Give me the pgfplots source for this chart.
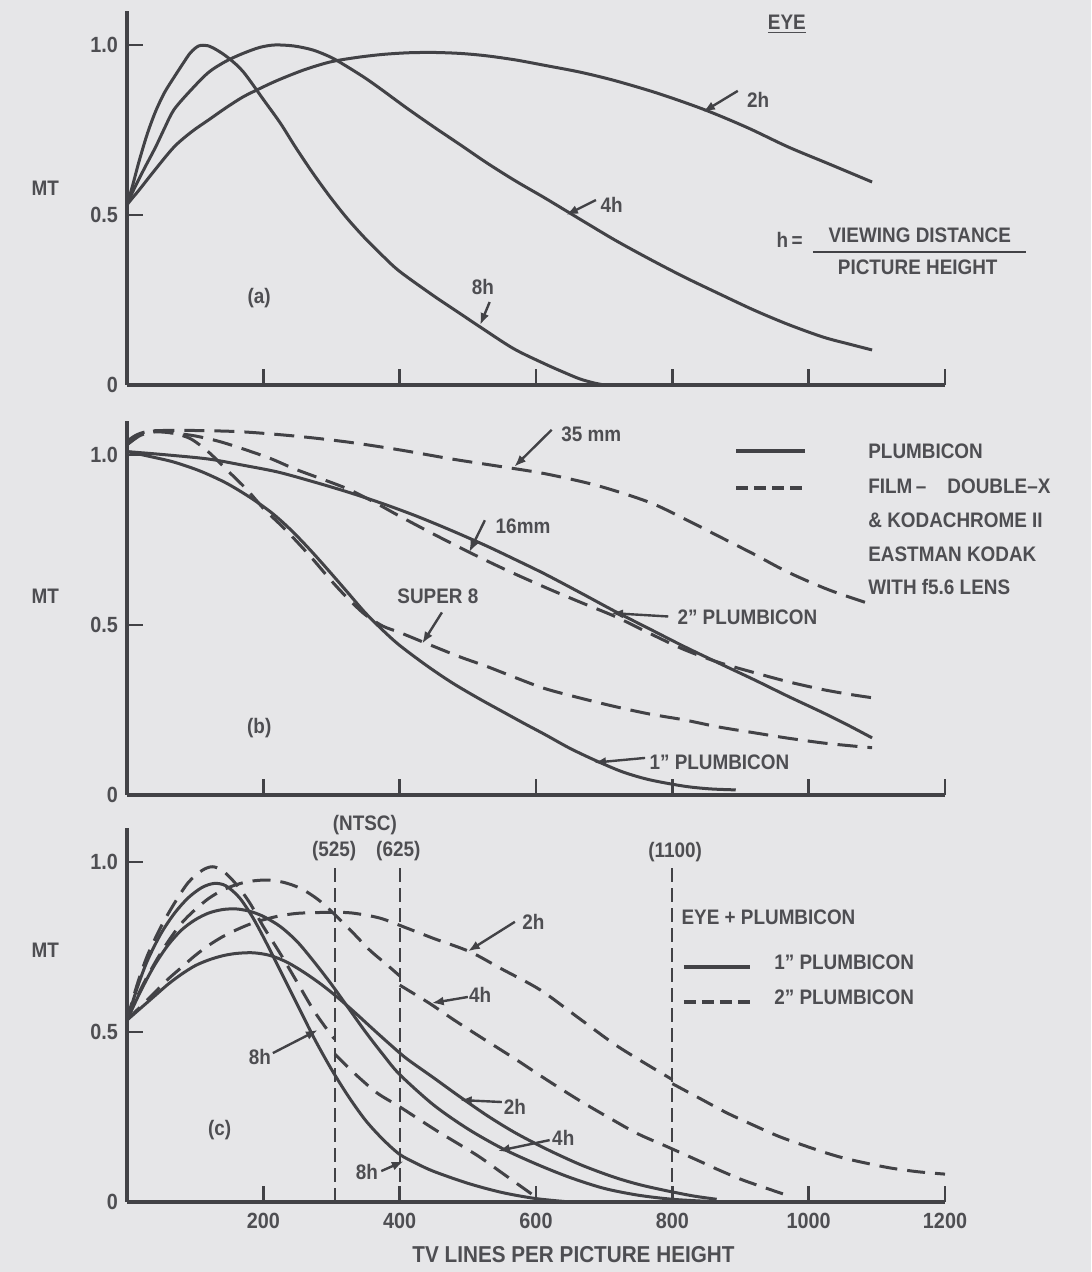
\documentclass[border=0pt]{standalone}
\usepackage{fontspec}
\setmainfont{Liberation Sans}[FakeStretch=0.9]
\usepackage{pgfplots}
\pgfplotsset{compat=1.18}
\usetikzlibrary{arrows.meta}
\definecolor{bgc}{RGB}{230,230,232}
\definecolor{ink}{RGB}{66,66,70}
\definecolor{txt}{RGB}{78,78,82}
\pgfplotsset{
  panel/.style={
    scale only axis, width=409pt, height=187pt,
    xmin=0, xmax=1200, ymin=0, ymax=1.1,
    axis lines=left,
    axis line style={-, line width=1.7pt, ink},
    tick style={ink, line width=1.4pt},
    major tick length=8pt, tick align=inside,
    xtick={200,400,600,800,1000,1200},
    ytick={0,0.5,1.0}, yticklabels={0,0.5,1.0},
    ticklabel style={font=\bfseries\fontsize{11}{12}\selectfont, text=txt},
    yticklabel style={xshift=-1pt},
    /pgf/number format/assume math mode=true,
    clip=false,
    cycle list={{ink,solid,mark=none}},
    every axis plot/.append style={ink, line width=1.5pt, mark=none, smooth},
  },
  nolab/.style={xticklabels={{},{},{},{},{},{}}},
  dB/.style={dash pattern=on 10pt off 5pt},
  dC/.style={dash pattern=on 9pt off 5pt},
}
\tikzset{
  arr/.style={ink, line width=1.2pt, -{Latex[length=6pt,width=4.5pt]}},
  lab/.style={text=txt, font=\bfseries\fontsize{10.5}{12}\selectfont, inner sep=0pt},
}
\begin{document}
\begin{tikzpicture}
\fill[bgc] (0,0) rectangle (545.5pt,636pt);

% ---------------- panel (a) ----------------
\begin{axis}[panel, nolab, at={(63.5pt,443.5pt)}, anchor=south west]
\addplot coordinates {(0,0.53) (8,0.585) (18,0.66) (30,0.74) (42,0.805) (55,0.86) (69,0.905) (82,0.945) (93,0.977) (105,0.997) (118,0.998) (132,0.985) (150,0.96) (171,0.92) (201,0.837) (225,0.77) (247,0.70) (272,0.625) (298,0.553) (323,0.49) (349,0.432) (375,0.38) (400,0.334) (450,0.262) (485,0.215) (517,0.172) (567,0.107) (613,0.062) (640,0.038) (664,0.018) (685,0.006) (700,0)};
\addplot coordinates {(0,0.53) (10,0.575) (25,0.635) (42,0.70) (55,0.755) (69,0.81) (95,0.87) (120,0.92) (145,0.952) (170,0.975) (195,0.993) (217,1.0) (245,0.997) (273,0.985) (300,0.963) (324,0.935) (350,0.902) (374,0.868) (410,0.815) (450,0.759) (490,0.705) (528,0.653) (570,0.60) (613,0.55) (665,0.487) (716,0.426) (767,0.37) (817,0.318) (870,0.267) (920,0.22) (970,0.178) (1021,0.141) (1060,0.12) (1093,0.103)};
\addplot coordinates {(0,0.53) (8,0.55) (18,0.574) (40,0.63) (69,0.70) (95,0.745) (120,0.78) (145,0.815) (170,0.847) (196,0.873) (222,0.897) (260,0.927) (298,0.95) (336,0.963) (374,0.972) (412,0.977) (450,0.978) (490,0.975) (528,0.968) (570,0.956) (613,0.94) (665,0.92) (716,0.895) (780,0.857) (848,0.809) (910,0.757) (970,0.70) (1030,0.65) (1093,0.597)};
\node[lab] at (axis cs:-120,0.58) {MT};
\node[lab] at (axis cs:968,1.06) {\underline{EYE}};
\node[lab] at (axis cs:926,0.838) {2h};
\draw[arr] (axis cs:896,0.865) -- (axis cs:845,0.803);
\node[lab] at (axis cs:711,0.53) {4h};
\draw[arr] (axis cs:688,0.544) -- (axis cs:644,0.50);
\node[lab] at (axis cs:522,0.288) {8h};
\draw[arr] (axis cs:532,0.244) -- (axis cs:518,0.176);
\node[lab] at (axis cs:194,0.256) {(a)};
\node[lab] at (axis cs:972,0.426) {h\,=};
\node[lab] at (axis cs:1163,0.441) {VIEWING DISTANCE};
\draw[ink, line width=1.1pt] (axis cs:1006,0.391) -- (axis cs:1319,0.391);
\node[lab] at (axis cs:1160,0.347) {PICTURE HEIGHT};
\end{axis}

% ---------------- panel (b) ----------------
\begin{axis}[panel, nolab, at={(63.5pt,238.5pt)}, anchor=south west]
\addplot coordinates {(0,1.01) (60,1.0) (120,0.988) (170,0.97) (221,0.95) (272,0.922) (324,0.891) (375,0.857) (425,0.82) (477,0.777) (528,0.732) (570,0.692) (613,0.65) (665,0.595) (716,0.54) (767,0.488) (817,0.437) (868,0.388) (920,0.339) (970,0.29) (1021,0.242) (1060,0.203) (1093,0.168)};
\addplot coordinates {(0,1.01) (35,0.995) (69,0.979) (107,0.953) (145,0.918) (180,0.876) (211,0.832) (235,0.79) (255,0.75) (275,0.707) (298,0.655) (324,0.595) (349,0.537) (375,0.485) (400,0.44) (440,0.38) (477,0.33) (515,0.285) (553,0.243) (583,0.21) (613,0.178) (650,0.137) (689,0.1) (727,0.068) (766,0.045) (817,0.026) (855,0.018) (893,0.015)};
\addplot[dB] coordinates {(0,1.04) (15,1.06) (38,1.071) (100,1.072) (170,1.068) (250,1.055) (324,1.038) (400,1.015) (477,0.988) (545,0.967) (613,0.945) (690,0.91) (766,0.861) (820,0.81) (868,0.761) (920,0.708) (970,0.655) (1030,0.603) (1093,0.56)};
\addplot[dB] coordinates {(0,1.03) (20,1.058) (42,1.068) (70,1.064) (100,1.056) (135,1.04) (170,1.018) (210,0.99) (246,0.959) (285,0.93) (324,0.90) (362,0.862) (400,0.82) (450,0.767) (502,0.714) (555,0.663) (613,0.611) (665,0.567) (716,0.525) (767,0.475) (817,0.428) (868,0.39) (920,0.36) (970,0.333) (1021,0.31) (1060,0.296) (1093,0.286)};
\addplot[dB] coordinates {(0,1.03) (20,1.06) (42,1.071) (70,1.063) (94,1.047) (120,1.008) (145,0.959) (175,0.90) (201,0.841) (225,0.795) (246,0.752) (272,0.695) (298,0.634) (323,0.58) (349,0.531) (375,0.497) (400,0.478) (450,0.437) (490,0.405) (528,0.378) (570,0.345) (613,0.313) (665,0.285) (716,0.26) (767,0.238) (817,0.221) (868,0.2) (920,0.183) (970,0.167) (1021,0.153) (1060,0.145) (1093,0.139)};
\node[lab] at (axis cs:-120,0.584) {MT};
\node[lab] at (axis cs:681,1.062) {35 mm};
\draw[arr] (axis cs:623,1.074) -- (axis cs:568,0.965);
\node[lab] at (axis cs:581,0.79) {16mm};
\draw[arr] (axis cs:525,0.808) -- (axis cs:502,0.714);
\node[lab] at (axis cs:456,0.584) {SUPER 8};
\draw[arr] (axis cs:462,0.537) -- (axis cs:433,0.445);
\node[lab, anchor=west] at (axis cs:807,0.522) {2” PLUMBICON};
\draw[arr] (axis cs:794,0.525) -- (axis cs:710,0.535);
\node[lab, anchor=west] at (axis cs:766,0.097) {1” PLUMBICON};
\draw[arr] (axis cs:760,0.109) -- (axis cs:685,0.095);
\node[lab] at (axis cs:194,0.198) {(b)};
\draw[ink, line width=1.8pt] (axis cs:894,1.012) -- (axis cs:994,1.012);
\draw[ink, line width=1.8pt, dash pattern=on 6pt off 3pt] (axis cs:894,0.903) -- (axis cs:994,0.903);
\node[lab, anchor=west] at (axis cs:1087,1.012) {PLUMBICON};
\node[lab, anchor=west] at (axis cs:1087,0.909) {FILM\,--\quad DOUBLE--X};
\node[lab, anchor=west] at (axis cs:1087,0.808) {\& KODACHROME II};
\node[lab, anchor=west] at (axis cs:1087,0.708) {EASTMAN KODAK};
\node[lab, anchor=west] at (axis cs:1087,0.611) {WITH f5.6 LENS};
\end{axis}

% ---------------- panel (c) ----------------
\begin{axis}[panel, at={(63.5pt,35pt)}, anchor=south west,
  xticklabels={200,400,600,800,1000,1200}, xticklabel style={yshift=-2pt}]
% reference lines
\addplot[line width=0.9pt, sharp plot, dash pattern=on 7pt off 3pt] coordinates {(305,0) (305,0.985)};
\addplot[line width=0.9pt, sharp plot, dash pattern=on 7pt off 3pt] coordinates {(400,0) (400,0.985)};
\addplot[line width=0.9pt, sharp plot, dash pattern=on 7pt off 3pt] coordinates {(800,0) (800,0.985)};
% 1" plumbicon (solid)
\addplot coordinates {(0,0.535) (15,0.63) (30,0.71) (50,0.79) (70,0.85) (90,0.895) (110,0.925) (128,0.937) (145,0.93) (165,0.895) (185,0.835) (205,0.76) (225,0.68) (250,0.58) (275,0.48) (300,0.39) (325,0.31) (350,0.24) (375,0.185) (400,0.14) (425,0.113) (450,0.09) (500,0.055) (550,0.028) (600,0.01) (650,0)};
\addplot coordinates {(0,0.535) (20,0.62) (40,0.695) (60,0.755) (80,0.80) (100,0.83) (120,0.85) (140,0.86) (160,0.862) (180,0.855) (200,0.84) (225,0.81) (250,0.765) (275,0.705) (300,0.64) (325,0.57) (350,0.50) (375,0.435) (400,0.375) (450,0.285) (500,0.215) (550,0.158) (600,0.112) (650,0.072) (700,0.04) (750,0.02) (800,0.008) (850,0.002)};
\addplot coordinates {(0,0.535) (20,0.57) (40,0.605) (60,0.64) (80,0.67) (100,0.695) (120,0.712) (140,0.724) (160,0.731) (185,0.733) (210,0.725) (235,0.705) (260,0.675) (285,0.64) (310,0.60) (335,0.556) (360,0.51) (385,0.465) (410,0.422) (450,0.365) (488,0.31) (530,0.252) (570,0.203) (616,0.155) (665,0.11) (713,0.074) (750,0.052) (787,0.035) (830,0.018) (865,0.008)};
% 2" plumbicon (dashed)
\addplot[dC] coordinates {(0,0.535) (15,0.64) (30,0.725) (50,0.81) (70,0.88) (90,0.94) (110,0.975) (125,0.986) (140,0.975) (160,0.935) (180,0.88) (200,0.81) (225,0.73) (250,0.645) (275,0.56) (300,0.49) (305,0.48)};
\addplot[dC] coordinates {(305,0.435) (330,0.385) (366,0.322) (400,0.28) (454,0.21) (513,0.138) (547,0.09) (575,0.05) (596,0.02)};
\addplot[dC] coordinates {(0,0.535) (20,0.625) (40,0.70) (60,0.765) (80,0.82) (100,0.86) (120,0.893) (140,0.917) (160,0.933) (180,0.943) (205,0.947) (230,0.94) (255,0.922) (280,0.89) (305,0.845) (330,0.795) (356,0.741) (380,0.70) (400,0.665)};
\addplot[dC] coordinates {(400,0.638) (444,0.584) (480,0.535) (518,0.486) (570,0.42) (616,0.359) (665,0.297) (713,0.241) (750,0.20) (792,0.163) (840,0.12) (865,0.097) (899,0.068) (924,0.05) (968,0.02)};
\addplot[dC] coordinates {(0,0.535) (20,0.575) (40,0.615) (60,0.655) (80,0.69) (100,0.725) (120,0.755) (140,0.78) (160,0.80) (180,0.817) (200,0.83) (225,0.842) (250,0.849) (275,0.851) (300,0.852) (330,0.85) (371,0.835) (410,0.806) (450,0.775) (503,0.736) (550,0.685) (606,0.624) (660,0.545) (713,0.467) (750,0.42) (800,0.36)};
\addplot[dC] coordinates {(800,0.348) (840,0.305) (880,0.262) (920,0.225) (960,0.19) (1017,0.15) (1050,0.13) (1085,0.114) (1120,0.1) (1160,0.089) (1200,0.082)};
% labels
\node[lab] at (axis cs:-120,0.741) {MT};
\node[lab] at (axis cs:349,1.11) {(NTSC)};
\node[lab] at (axis cs:304,1.032) {(525)};
\node[lab] at (axis cs:398,1.032) {(625)};
\node[lab] at (axis cs:804,1.03) {(1100)};
\node[lab, anchor=west] at (axis cs:813,0.838) {EYE + PLUMBICON};
\draw[ink, line width=1.8pt] (axis cs:817,0.691) -- (axis cs:914,0.691);
\draw[ink, line width=1.8pt, dash pattern=on 6pt off 3pt] (axis cs:817,0.588) -- (axis cs:917,0.588);
\node[lab, anchor=west] at (axis cs:949,0.706) {1” PLUMBICON};
\node[lab, anchor=west] at (axis cs:949,0.603) {2” PLUMBICON};
\node[lab] at (axis cs:596,0.824) {2h};
\draw[arr] (axis cs:569,0.824) -- (axis cs:500,0.737);
\node[lab] at (axis cs:518,0.609) {4h};
\draw[arr] (axis cs:500,0.603) -- (axis cs:447,0.585);
\node[lab] at (axis cs:195,0.426) {8h};
\draw[arr] (axis cs:214,0.438) -- (axis cs:280,0.506);
\node[lab] at (axis cs:569,0.279) {2h};
\draw[arr] (axis cs:550,0.294) -- (axis cs:488,0.30);
\node[lab] at (axis cs:640,0.188) {4h};
\draw[arr] (axis cs:620,0.182) -- (axis cs:544,0.15);
\node[lab] at (axis cs:352,0.088) {8h};
\draw[arr] (axis cs:373,0.091) -- (axis cs:406,0.12);
\node[lab] at (axis cs:136,0.212) {(c)};
\node[lab, font=\bfseries\fontsize{11.5}{13}\selectfont] at (axis cs:655,-0.156) {TV LINES PER PICTURE HEIGHT};
\end{axis}
\end{tikzpicture}
\end{document}
